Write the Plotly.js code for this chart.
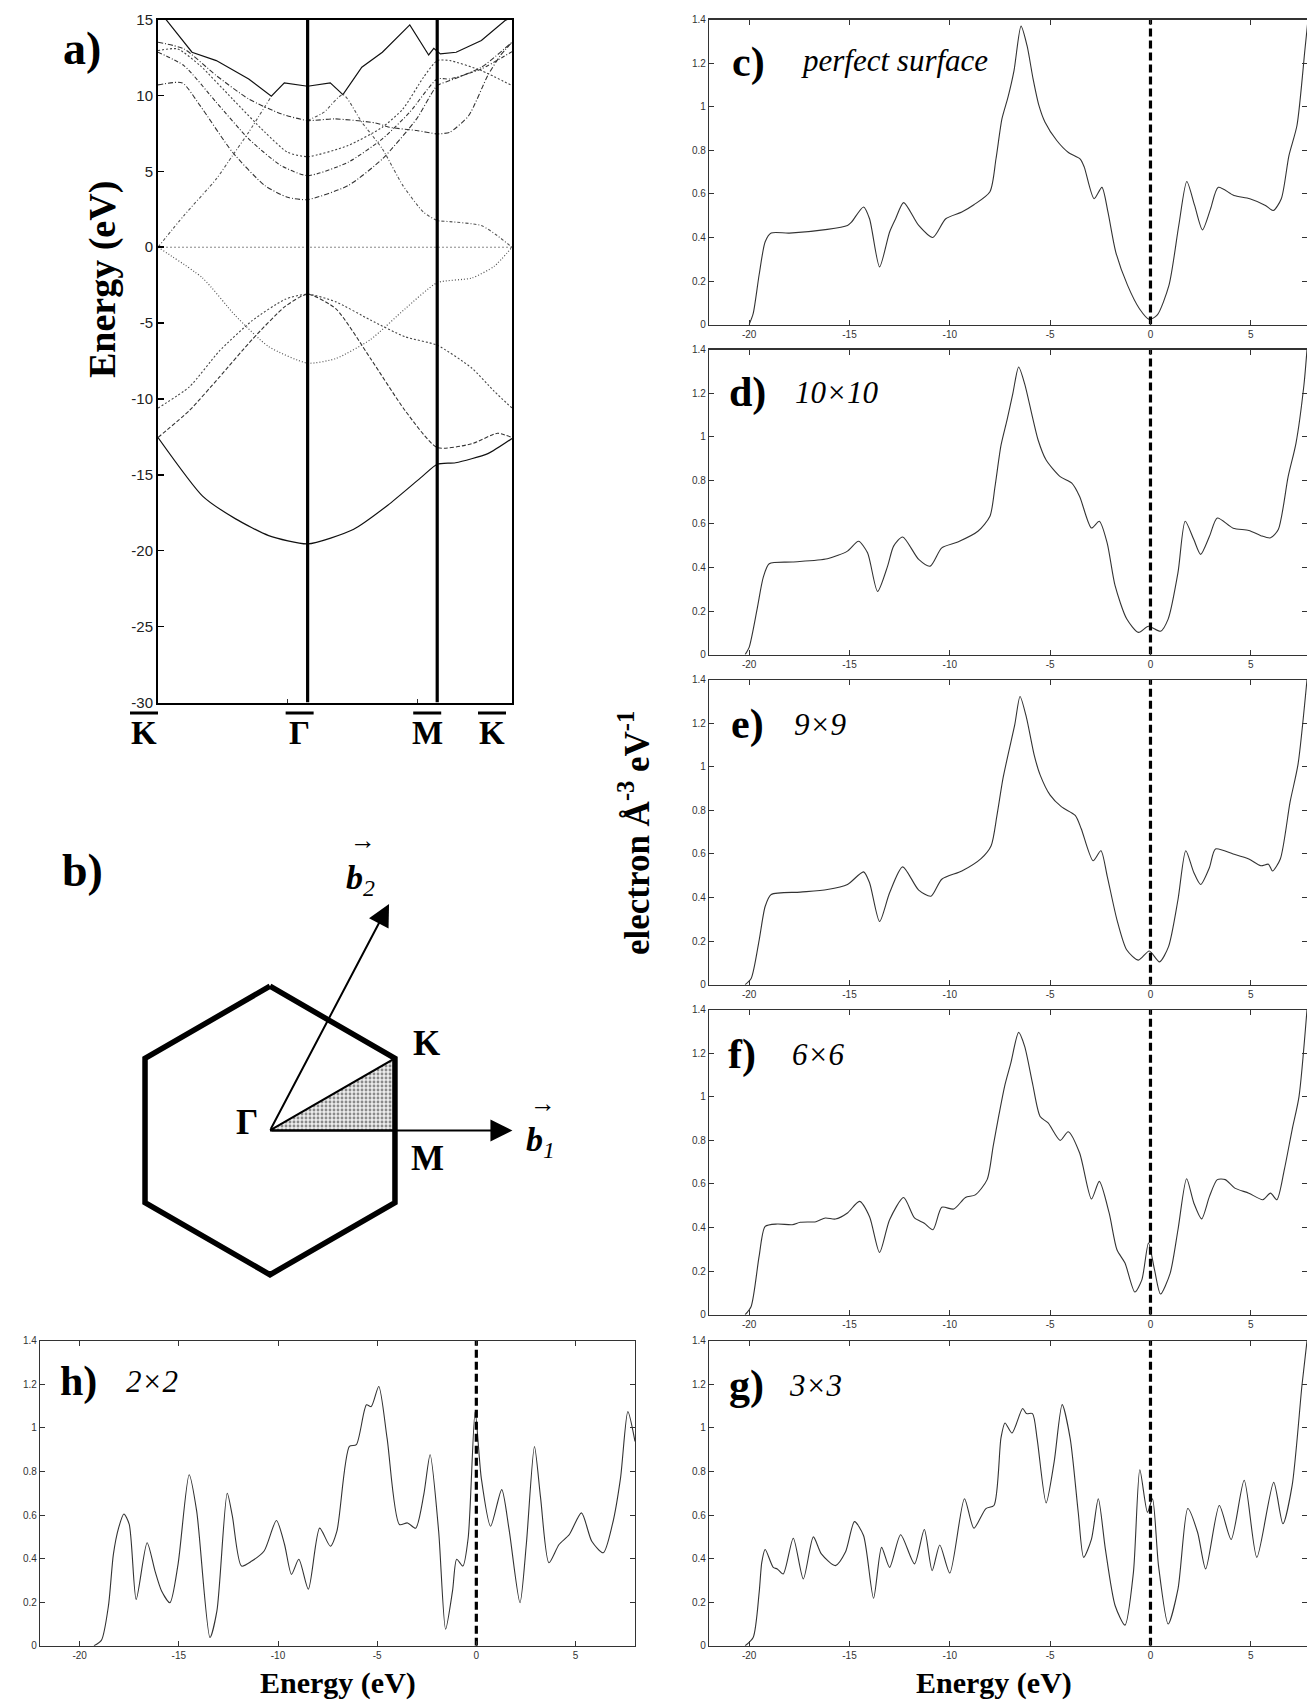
<!DOCTYPE html>
<html><head><meta charset="utf-8">
<script src="https://cdn.plot.ly/plotly-3.0.1.min.js"></script>
<style>html,body{margin:0;padding:0;background:#fff;overflow:hidden}</style>
</head><body><div id="chart" style="width:1307px;height:1708px"></div>
<script>
// ================= DATA =================
// (a) band structure along K-Gamma-M-K
const kPathTicks = [0, 0.5774, 1.0774, 1.366];
const kPathLabels = ['K', 'Γ', 'M', 'K'];
const kMinorTicks = [0.5, 1.0];
const energyTicks = [15, 10, 5, 0, -5, -10, -15, -20, -25, -30];
const energyTickText = ['15', '10', '5', '0', '-5', '-10', '-15', '-20', '-25', '-30'];

const bandL1_k = [0, 0.1721, 0.2995, 0.427, 0.5774, 0.7534, 0.8867, 1.02, 1.0774, 1.1483, 1.2728, 1.366];
const bandL1_E = [-12.54, -16.4, -17.9, -19.0, -19.55, -18.6, -17.0, -15.1, -14.3, -14.2, -13.6, -12.6];
const bandL2_k = [0, 0.1211, 0.2358, 0.3633, 0.4907, 0.5774, 0.6867, 0.82, 0.9534, 1.0774, 1.2106, 1.3101, 1.366];
const bandL2_E = [-12.54, -10.76, -8.58, -6.08, -3.9, -3.09, -4.06, -7.33, -10.76, -13.2, -12.95, -12.26, -12.54];
const bandL3_k = [0, 0.1211, 0.2358, 0.3633, 0.4907, 0.5774, 0.6867, 0.82, 0.9534, 1.0774, 1.2106, 1.2977, 1.366];
const bandL3_E = [-10.6, -9.2, -6.86, -4.84, -3.43, -3.09, -3.6, -4.8, -5.9, -6.46, -7.96, -9.5, -10.6];
const bandPi_k = [0, 0.1721, 0.2995, 0.427, 0.5774, 0.6867, 0.82, 0.9534, 1.0774, 1.2106, 1.2977, 1.366];
const bandPi_E = [0, -2.03, -4.52, -6.55, -7.64, -7.33, -6.08, -4.06, -2.34, -2.03, -1.25, 0];
const bandU0_k = [0, 0.0312, 0.1312, 0.225, 0.35, 0.4374, 0.4874, 0.5774, 0.6647, 0.7136, 0.7864, 0.8658, 0.9716, 1.0444, 1.0642, 1.0774, 1.0896, 1.1505, 1.2479, 1.3393, 1.366];
const bandU0_E = [15.48, 15.0, 12.85, 12.3, 11.09, 9.95, 10.83, 10.61, 10.83, 10.06, 11.86, 12.85, 14.65, 12.67, 13.11, 12.89, 12.74, 12.85, 13.62, 14.94, 15.15];
const bandU1_k = [0, 0.1, 0.225, 0.35, 0.4749, 0.5774, 0.6806, 0.8393, 0.8922, 0.9981, 1.0774, 1.1261, 1.1992, 1.2723, 1.321, 1.366];
const bandU1_E = [13.51, 13.07, 11.31, 9.77, 8.79, 8.35, 8.46, 8.19, 7.91, 7.69, 7.47, 7.58, 8.68, 11.31, 12.63, 13.51];
const bandU2_k = [0, 0.075, 0.1625, 0.2875, 0.4124, 0.4999, 0.5774, 0.7335, 0.8658, 0.9451, 1.0245, 1.0774, 1.1261, 1.2479, 1.366];
const bandU2_E = [12.96, 13.07, 11.97, 9.77, 7.58, 6.26, 5.97, 6.7, 7.91, 9.11, 11.2, 12.3, 12.3, 11.64, 10.65];
const bandU3_k = [0, 0.1, 0.225, 0.35, 0.4749, 0.5774, 0.7335, 0.8658, 0.9716, 1.0774, 1.1261, 1.2479, 1.366];
const bandU3_E = [12.85, 11.97, 9.55, 7.14, 5.38, 4.72, 5.6, 7.14, 8.9, 11.09, 11.09, 11.75, 12.89];
const bandU4_k = [0, 0.0937, 0.1625, 0.2875, 0.4124, 0.4999, 0.5774, 0.7335, 0.8658, 0.9981, 1.0774, 1.1261, 1.2479, 1.366];
const bandU4_E = [10.7, 10.83, 9.33, 6.26, 4.06, 3.29, 3.14, 4.06, 5.82, 8.46, 10.65, 10.98, 11.86, 13.51];
const bandPiStarA_k = [0, 0.1, 0.225, 0.2875, 0.35, 0.4374];
const bandPiStarA_E = [0, 2.09, 4.5, 6.04, 7.58, 9.95];
const bandPiStarB_k = [0.5774, 0.6409, 0.7136, 0.7864, 0.8658, 0.9451, 1.0245, 1.0774, 1.1261, 1.2479, 1.3088, 1.366];
const bandPiStarB_E = [8.35, 8.9, 10.06, 8.24, 6.48, 4.06, 2.31, 1.76, 1.69, 1.43, 0.77, 0];
const fermi_k = [0, 1.366];
const fermi_E = [0, 0];

// (b) Brillouin zone (units of the zone radius)
const hexX = [0, 0.866, 0.866, 0, -0.866, -0.866, 0];
const hexY = [1, 0.5, -0.5, -1, -0.5, 0.5, 1];
const irrX = [0, 0.866, 0.866, 0];
const irrY = [0, 0.5, 0, 0];
const b1Tip = [1.68, 0];
const b2Tip = [0.825, 1.57];

// (c)-(h) density of states
const dosTicksX = [-20, -15, -10, -5, 0, 5];
const dosTickTextX = ['-20', '-15', '-10', '-5', '0', '5'];
const dosTicksY = [0, 0.2, 0.4, 0.6, 0.8, 1, 1.2, 1.4];
const dosTickTextY = ['0', '0.2', '0.4', '0.6', '0.8', '1', '1.2', '1.4'];
const fermiLineE = [0, 0];
const fermiLineD = [0, 1.4];

const dosC_E = [-20, -19.8, -19.5, -19.2, -18.9, -18.0, -16.1, -15.1, -14.9, -14.3, -14.0, -13.5, -13.0, -12.7, -12.3, -11.55, -10.85, -10.2, -9.4, -8.8, -8.0, -7.7, -7.4, -7.1, -6.8, -6.45, -6.15, -5.85, -5.56, -5.26, -4.67, -4.09, -3.5, -3.3, -2.81, -2.42, -2.12, -1.73, -1.14, -0.55, -0.06, 0.33, 0.92, 1.41, 1.81, 2.2, 2.59, 2.99, 3.38, 4.16, 4.95, 5.73, 6.12, 6.52, 6.9, 7.3, 7.7, 7.85];
const dosC_D = [0, 0.05, 0.23, 0.38, 0.42, 0.42, 0.437, 0.455, 0.47, 0.54, 0.486, 0.265, 0.425, 0.486, 0.56, 0.455, 0.40, 0.486, 0.517, 0.55, 0.61, 0.76, 0.945, 1.044, 1.166, 1.37, 1.28, 1.128, 1.006, 0.93, 0.845, 0.79, 0.76, 0.723, 0.578, 0.63, 0.517, 0.333, 0.18, 0.073, 0.024, 0.043, 0.18, 0.455, 0.657, 0.547, 0.435, 0.53, 0.63, 0.593, 0.578, 0.547, 0.524, 0.578, 0.776, 0.914, 1.265, 1.4];

const dosD_E = [-20.2, -20.0, -19.6, -19.3, -19.0, -17.85, -16.1, -15.1, -14.55, -14.1, -13.6, -13.1, -12.8, -12.35, -11.55, -10.98, -10.4, -9.6, -8.6, -8.0, -7.75, -7.45, -7.15, -6.86, -6.57, -6.27, -5.88, -5.6, -5.2, -4.5, -3.92, -3.53, -2.94, -2.55, -2.16, -1.76, -1.18, -0.6, -0.1, 0.5, 0.88, 1.37, 1.73, 2.16, 2.5, 2.94, 3.33, 4.12, 4.9, 5.5, 5.98, 6.37, 6.86, 7.25, 7.65, 7.8];
const dosD_D = [0, 0.033, 0.21, 0.353, 0.417, 0.425, 0.44, 0.475, 0.52, 0.467, 0.29, 0.406, 0.498, 0.54, 0.437, 0.406, 0.49, 0.517, 0.566, 0.635, 0.77, 0.96, 1.076, 1.198, 1.32, 1.243, 1.09, 0.985, 0.893, 0.817, 0.787, 0.726, 0.581, 0.612, 0.513, 0.315, 0.163, 0.102, 0.13, 0.107, 0.163, 0.376, 0.612, 0.528, 0.46, 0.543, 0.627, 0.58, 0.57, 0.546, 0.536, 0.574, 0.817, 0.97, 1.24, 1.4];

const dosE_E = [-20.2, -19.9, -19.5, -19.2, -18.9, -17.45, -16.1, -15.1, -14.3, -14.0, -13.5, -13.0, -12.35, -11.55, -10.94, -10.4, -9.4, -8.43, -7.94, -7.65, -7.35, -7.06, -6.76, -6.5, -6.18, -5.8, -5.5, -5.0, -4.43, -3.75, -3.45, -2.86, -2.47, -2.16, -1.67, -1.18, -0.6, -0.06, 0.45, 0.9, 1.37, 1.76, 2.16, 2.5, 2.94, 3.24, 4.12, 4.9, 5.5, 5.88, 6.08, 6.47, 6.96, 7.35, 7.8];
const dosE_D = [0, 0.028, 0.205, 0.36, 0.414, 0.425, 0.437, 0.46, 0.518, 0.468, 0.29, 0.422, 0.541, 0.434, 0.406, 0.484, 0.522, 0.58, 0.638, 0.777, 0.947, 1.071, 1.195, 1.323, 1.226, 1.056, 0.963, 0.87, 0.816, 0.777, 0.716, 0.569, 0.615, 0.5, 0.298, 0.159, 0.113, 0.155, 0.105, 0.175, 0.39, 0.615, 0.515, 0.46, 0.538, 0.623, 0.6, 0.577, 0.546, 0.553, 0.522, 0.577, 0.84, 1.01, 1.4];

const dosF_E = [-20.2, -19.9, -19.5, -19.2, -18.6, -17.85, -17.45, -16.67, -16.2, -15.7, -15.1, -14.5, -14.0, -13.5, -13.0, -12.3, -11.76, -11.27, -10.84, -10.4, -9.8, -9.22, -8.73, -8.14, -7.84, -7.55, -7.25, -6.96, -6.57, -6.27, -5.88, -5.5, -5.1, -4.5, -4.1, -3.53, -2.94, -2.55, -2.06, -1.67, -1.27, -0.78, -0.43, -0.1, 0.2, 0.5, 0.98, 1.37, 1.8, 2.16, 2.55, 2.94, 3.33, 3.73, 4.2, 4.9, 5.6, 5.98, 6.3, 6.67, 7.06, 7.4, 7.8];
const dosF_D = [0, 0.038, 0.27, 0.405, 0.416, 0.413, 0.424, 0.427, 0.444, 0.439, 0.467, 0.52, 0.45, 0.286, 0.436, 0.538, 0.444, 0.42, 0.39, 0.493, 0.485, 0.538, 0.55, 0.62, 0.773, 0.918, 1.056, 1.155, 1.296, 1.232, 1.063, 0.91, 0.88, 0.8, 0.84, 0.742, 0.531, 0.612, 0.467, 0.298, 0.237, 0.104, 0.16, 0.329, 0.207, 0.095, 0.19, 0.39, 0.624, 0.513, 0.44, 0.543, 0.62, 0.62, 0.581, 0.558, 0.528, 0.558, 0.528, 0.666, 0.85, 1.0, 1.4];

const dosG_E = [-20.2, -19.8, -19.5, -19.37, -19.2, -18.8, -18.6, -18.3, -17.8, -17.3, -16.8, -16.4, -15.7, -15.2, -14.75, -14.3, -13.8, -13.4, -13.0, -12.45, -11.76, -11.27, -10.88, -10.5, -10.0, -9.27, -8.8, -8.2, -7.8, -7.45, -7.25, -6.9, -6.37, -6.18, -5.88, -5.65, -5.2, -4.8, -4.4, -4.0, -3.6, -3.33, -2.94, -2.6, -2.25, -1.76, -1.27, -0.85, -0.53, -0.15, 0.1, 0.4, 0.88, 1.37, 1.86, 2.35, 2.75, 3.43, 4.02, 4.67, 5.3, 6.14, 6.6, 7.06, 7.55, 7.8];
const dosG_D = [0, 0.038, 0.245, 0.383, 0.442, 0.36, 0.353, 0.33, 0.494, 0.307, 0.5, 0.422, 0.368, 0.43, 0.57, 0.506, 0.218, 0.452, 0.36, 0.51, 0.376, 0.534, 0.345, 0.463, 0.334, 0.675, 0.54, 0.63, 0.644, 0.954, 1.023, 0.977, 1.089, 1.066, 1.066, 0.951, 0.656, 0.844, 1.107, 0.951, 0.613, 0.406, 0.49, 0.675, 0.445, 0.184, 0.095, 0.337, 0.808, 0.613, 0.675, 0.368, 0.1, 0.26, 0.63, 0.52, 0.353, 0.644, 0.488, 0.76, 0.406, 0.75, 0.56, 0.736, 1.196, 1.4];

const dosH_E = [-19.28, -18.9, -18.55, -18.3, -18.04, -17.77, -17.5, -17.15, -16.6, -16.2, -15.87, -15.45, -15.04, -14.48, -14.1, -13.43, -13.08, -12.56, -12.3, -11.84, -11.32, -10.7, -10.08, -9.67, -9.32, -8.95, -8.47, -7.9, -7.36, -7.03, -6.4, -6.05, -5.54, -5.3, -4.92, -4.5, -3.88, -3.47, -3.06, -2.65, -2.33, -1.9, -1.55, -1.2, -0.99, -0.68, -0.41, -0.06, 0.25, 0.72, 1.28, 1.65, 2.2, 2.52, 2.93, 3.24, 3.66, 4.17, 4.69, 5.3, 5.82, 6.4, 6.86, 7.27, 7.64, 8.0];
const dosH_D = [0, 0.026, 0.183, 0.42, 0.54, 0.605, 0.557, 0.213, 0.473, 0.343, 0.252, 0.198, 0.374, 0.785, 0.618, 0.038, 0.16, 0.7, 0.595, 0.366, 0.389, 0.435, 0.575, 0.465, 0.328, 0.397, 0.26, 0.54, 0.457, 0.526, 0.915, 0.923, 1.106, 1.098, 1.19, 0.953, 0.557, 0.564, 0.54, 0.694, 0.877, 0.526, 0.076, 0.252, 0.397, 0.366, 0.496, 1.075, 0.77, 0.549, 0.717, 0.534, 0.198, 0.465, 0.915, 0.679, 0.381, 0.465, 0.511, 0.61, 0.48, 0.427, 0.557, 0.77, 1.075, 0.938];

// ================= LAYOUT HELPERS =================
const W = 1307, H = 1708;
const PX = x => x / W;
const PY = y => 1 - y / H;
const serif = 'Liberation Serif, Times New Roman, serif';
const sans = 'Liberation Sans, Arial, sans-serif';
const narrow = 'Liberation Sans Narrow, Arial Narrow, Liberation Sans, sans-serif';

const traces = [];
function band(k, E, dash, width, color, shape) {
  traces.push({x: k, y: E, xaxis: 'x', yaxis: 'y', type: 'scatter', mode: 'lines',
    line: {color: color || '#333', width: width || 1.1, dash: dash || 'solid', shape: shape || 'spline', smoothing: 0.6},
    hoverinfo: 'skip', showlegend: false});
}
band(fermi_k, fermi_E, '2px,2px', 1, '#888', 'linear');
band(bandL1_k, bandL1_E, 'solid', 1.2, '#111');
band(bandL2_k, bandL2_E, '4px,2px', 1.1, '#333');
band(bandL3_k, bandL3_E, '2px,2px', 1.1, '#444');
band(bandPi_k, bandPi_E, '1px,2px', 1.2, '#555');
band(bandU0_k, bandU0_E, 'solid', 1.2, '#111', 'linear');
band(bandU1_k, bandU1_E, '5px,2px,1px,2px', 1.1, '#333');
band(bandU2_k, bandU2_E, '2px,2px', 1.1, '#444');
band(bandU3_k, bandU3_E, '4px,2px,1px,2px', 1.1, '#333');
band(bandU4_k, bandU4_E, '5px,2px,1px,2px', 1.1, '#333');
band(bandPiStarA_k, bandPiStarA_E, '3px,2px,1px,2px', 1.1, '#555');
band(bandPiStarB_k, bandPiStarB_E, '3px,2px,1px,2px', 1.1, '#555');

// Brillouin zone
traces.push({x: irrX, y: irrY, xaxis: 'x2', yaxis: 'y2', type: 'scatter', mode: 'lines', fill: 'toself',
  fillcolor: '#e4e4e4', fillpattern: {shape: '.', fgcolor: '#8a8a8a', bgcolor: '#ececec', size: 4, solidity: 0.4},
  line: {color: '#000', width: 2}, hoverinfo: 'skip', showlegend: false});
traces.push({x: hexX, y: hexY, xaxis: 'x2', yaxis: 'y2', type: 'scatter', mode: 'lines',
  line: {color: '#000', width: 5.5}, hoverinfo: 'skip', showlegend: false});

// DOS panels
const dosPanels = [
  {E: dosC_E, D: dosC_D, ax: '3', top: 19.6, left: 709, right: 1307, range: [-22, 7.8]},
  {E: dosD_E, D: dosD_D, ax: '4', top: 349.6, left: 709, right: 1307, range: [-22, 7.8]},
  {E: dosE_E, D: dosE_D, ax: '5', top: 679.7, left: 709, right: 1307, range: [-22, 7.8]},
  {E: dosF_E, D: dosF_D, ax: '6', top: 1009.7, left: 709, right: 1307, range: [-22, 7.8]},
  {E: dosG_E, D: dosG_D, ax: '7', top: 1340.8, left: 709, right: 1307, range: [-22, 7.8]},
  {E: dosH_E, D: dosH_D, ax: '8', top: 1340.8, left: 40, right: 635, range: [-22, 8]}
];
const panelH = 305;

const layout = {
  width: W, height: H, autosize: false,
  margin: {l: 0, r: 0, t: 0, b: 0},
  paper_bgcolor: '#fff', plot_bgcolor: '#fff',
  showlegend: false,
  xaxis: {domain: [PX(158), PX(512)], range: [0, 1.366], showline: true, linecolor: '#000', linewidth: 2,
    mirror: true, tickvals: kMinorTicks, ticks: 'inside', ticklen: 4, tickcolor: '#333', showticklabels: false,
    showgrid: false, zeroline: false, fixedrange: true},
  yaxis: {domain: [PY(702.5), PY(19.6)], range: [-30, 15], showline: true, linecolor: '#000', linewidth: 2,
    mirror: true, tickvals: energyTicks, ticktext: energyTickText, ticks: 'inside', ticklen: 6, tickwidth: 1.5,
    tickcolor: '#000', tickfont: {family: narrow, size: 15, color: '#222'}, showgrid: false, zeroline: false},
  xaxis2: {domain: [PX(100), PX(620)], range: [-1.178, 2.4255], visible: false},
  yaxis2: {domain: [PY(1300), PY(860)], range: [-1.1753, 1.875], visible: false},
  shapes: [], annotations: []
};

// vertical high-symmetry lines in (a)
[kPathTicks[1], kPathTicks[2]].forEach(k => {
  layout.shapes.push({type: 'line', xref: 'x', yref: 'y', x0: k, x1: k, y0: -30, y1: 15,
    line: {color: '#000', width: 3.2}});
});
// high-symmetry labels with overbar
const labelShift = [-14, -8, -10, -20];
kPathTicks.forEach((k, i) => {
  layout.annotations.push({xref: 'x', yref: 'paper', x: k, y: PY(733), xshift: labelShift[i],
    text: '<b>' + kPathLabels[i] + '</b>', showarrow: false, font: {family: serif, size: 33, color: '#000'},
    xanchor: 'center', yanchor: 'middle'});
  const xc = 158 + k / 1.366 * 354 + labelShift[i];
  layout.shapes.push({type: 'line', xref: 'paper', yref: 'paper', x0: PX(xc - 14), x1: PX(xc + 14),
    y0: PY(713), y1: PY(713), line: {color: '#000', width: 3}});
});

dosPanels.forEach(p => {
  const xa = 'xaxis' + p.ax, ya = 'yaxis' + p.ax;
  layout[xa] = {domain: [PX(p.left), PX(p.right)], range: p.range, anchor: 'y' + p.ax,
    showline: true, linecolor: '#333', linewidth: 1.2, mirror: 'ticks', ticks: 'inside', ticklen: 5,
    tickcolor: '#333', tickvals: dosTicksX, ticktext: dosTickTextX,
    tickfont: {family: sans, size: 10, color: '#333'}, showgrid: false, zeroline: false};
  layout[ya] = {domain: [PY(p.top + panelH), PY(p.top)], range: [0, 1.4], anchor: 'x' + p.ax,
    showline: true, linecolor: '#333', linewidth: 1.2, mirror: 'ticks', ticks: 'inside', ticklen: 5,
    tickcolor: '#333', tickvals: dosTicksY, ticktext: dosTickTextY,
    tickfont: {family: sans, size: 10, color: '#333'}, showgrid: false, zeroline: false};
  traces.push({x: p.E, y: p.D, xaxis: 'x' + p.ax, yaxis: 'y' + p.ax, type: 'scatter', mode: 'lines',
    line: {color: '#333', width: 1.1, shape: 'spline', smoothing: 0.7}, hoverinfo: 'skip', showlegend: false});
  traces.push({x: fermiLineE, y: fermiLineD, xaxis: 'x' + p.ax, yaxis: 'y' + p.ax, type: 'scatter', mode: 'lines',
    line: {color: '#000', width: 3.2, dash: '8px,4px'}, hoverinfo: 'skip', showlegend: false});
});

// arrows b1, b2
[b1Tip, b2Tip].forEach(t => {
  layout.annotations.push({xref: 'x2', yref: 'y2', axref: 'x2', ayref: 'y2', x: t[0], y: t[1], ax: 0, ay: 0,
    text: '', showarrow: true, arrowhead: 2, arrowsize: 2.2, arrowwidth: 2, arrowcolor: '#000', standoff: 0, startstandoff: 0});
});

function txt(x, y, text, size, opts) {
  layout.annotations.push(Object.assign({xref: 'paper', yref: 'paper', x: PX(x), y: PY(y), text: text,
    showarrow: false, font: {family: serif, size: size, color: '#000'}, xanchor: 'center', yanchor: 'middle'}, opts || {}));
}
// panel labels
txt(82, 49, '<b>a)</b>', 46);
txt(82, 871, '<b>b)</b>', 46);
txt(748, 62, '<b>c)</b>', 42);
txt(894, 60, '<i>perfect surface</i>', 31);
txt(747, 392, '<b>d)</b>', 42);
txt(836, 392, '<i>10×10</i>', 31);
txt(747, 724, '<b>e)</b>', 42);
txt(820, 724, '<i>9×9</i>', 31);
txt(742, 1054, '<b>f)</b>', 42);
txt(818, 1054, '<i>6×6</i>', 31);
txt(746, 1385, '<b>g)</b>', 42);
txt(816, 1385, '<i>3×3</i>', 31);
txt(78, 1381, '<b>h)</b>', 42);
txt(152, 1381, '<i>2×2</i>', 31);
// axis titles
txt(103, 280, '<b>Energy (eV)</b>', 38, {textangle: -90});
txt(635, 833, '<b>electron Å<sup>-3</sup> eV<sup>-1</sup></b>', 35, {textangle: -90});
txt(338, 1683, '<b>Energy (eV)</b>', 30);
txt(994, 1683, '<b>Energy (eV)</b>', 30);
// Brillouin zone labels
txt(426, 1043, '<b>K</b>', 35);
txt(427, 1158, '<b>M</b>', 35);
txt(247, 1122, '<b>Γ</b>', 35);
txt(540, 1142, '<b><i>b</i></b><sub><i>1</i></sub>', 34);
txt(543, 1103, '→', 26);
txt(360, 880, '<b><i>b</i></b><sub><i>2</i></sub>', 34);
txt(363, 841, '→', 26);

Plotly.newPlot('chart', traces, layout, {staticPlot: true, displayModeBar: false});
</script>
</body></html>
